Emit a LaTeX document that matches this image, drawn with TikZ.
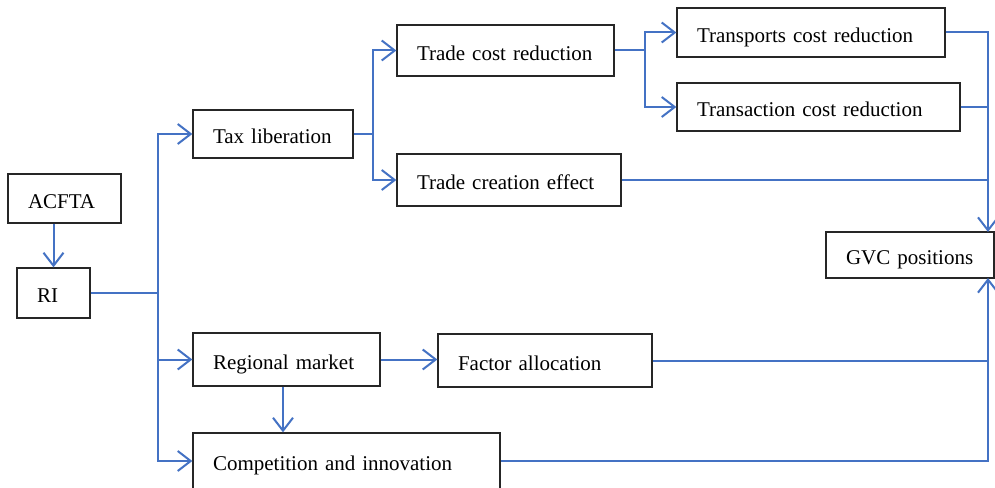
\documentclass[tikz,border=0pt]{standalone}
\usepackage{fontspec}
\setmainfont{Liberation Serif}
\usetikzlibrary{arrows.meta}
\definecolor{lblue}{RGB}{68,114,196}
\tikzset{
  box/.style={draw=black!85, line width=1.3pt, rectangle, inner xsep=20pt, inner ysep=0pt,
    align=left, text height=19pt, text depth=0pt, font=\fontsize{21}{25}\selectfont},
  conn/.style={draw=lblue, line width=2pt},
  arr/.style={conn, -{Straight Barb[length=13pt,width=20pt]}}
}
\begin{document}
\begin{tikzpicture}[x=1pt,y=-1pt]
\useasboundingbox[fill=white] (0,0) rectangle (995,487);
% boxes
\node[box, minimum width=113pt, minimum height=49pt, text width=73pt] (acfta) at (64.5,198.5) {ACFTA};
\node[box, minimum width=73pt, minimum height=50pt, text width=33pt] (ri) at (53.5,293) {RI};
\node[box, minimum width=160pt, minimum height=48pt, text width=120pt] (tax) at (273,134) {\mbox{Tax liberation}};
\node[box, minimum width=187pt, minimum height=53pt, text width=147pt] (reg) at (286.5,359.5) {\mbox{Regional market}};
\node[box, minimum width=307pt, minimum height=56pt, text width=267pt] (comp) at (346.5,461) {\mbox{Competition and innovation}};
\node[box, minimum width=214pt, minimum height=53pt, text width=174pt] (fact) at (545,360.5) {\mbox{Factor allocation}};
\node[box, minimum width=217pt, minimum height=51pt, text width=177pt] (tcost) at (505.5,50.5) {\mbox{Trade cost reduction}};
\node[box, minimum width=224pt, minimum height=52pt, text width=184pt] (tcre) at (509,180) {\mbox{Trade creation effect}};
\node[box, minimum width=268pt, minimum height=49pt, text width=228pt] (trans) at (811,32.5) {\mbox{Transports cost reduction}};
\node[box, minimum width=283pt, minimum height=48pt, text width=243pt] (tact) at (818.5,107) {\mbox{Transaction cost reduction}};
\node[box, minimum width=168pt, minimum height=46pt, text width=128pt] (gvc) at (910,255) {\mbox{GVC positions}};
% junction coordinates
\coordinate (trunk) at (158,293);
\coordinate (taxj) at (373,134);
\coordinate (costj) at (645,50.5);
\coordinate (gtop) at (988,232);
\coordinate (gbot) at (988,278);
% connectors
\draw[arr] (acfta.south -| ri.north) -- (ri.north);
\draw[conn] (ri.east) -- (trunk);
\draw[arr] (trunk) |- (tax.west);
\draw[arr] (trunk) |- (reg.west);
\draw[arr] (trunk) |- (comp.west);
\draw[conn] (tax.east) -- (taxj);
\draw[arr] (taxj) |- (tcost.west);
\draw[arr] (taxj) |- (tcre.west);
\draw[conn] (tcost.east) -- (costj);
\draw[arr] (costj) |- (trans.west);
\draw[arr] (costj) |- (tact.west);
\draw[arr] (trans.east) -| (gtop);
\draw[conn] (tact.east) -- (tact.east -| gtop);
\draw[conn] (tcre.east) -- (tcre.east -| gtop);
\draw[arr] (reg.east) -- (reg.east -| fact.west);
\draw[arr] (reg.south -| 283,0) -- (comp.north -| 283,0);
\draw[arr] (comp.east) -| (gbot);
\draw[conn] (fact.east) -- (fact.east -| gbot);
\end{tikzpicture}
\end{document}
